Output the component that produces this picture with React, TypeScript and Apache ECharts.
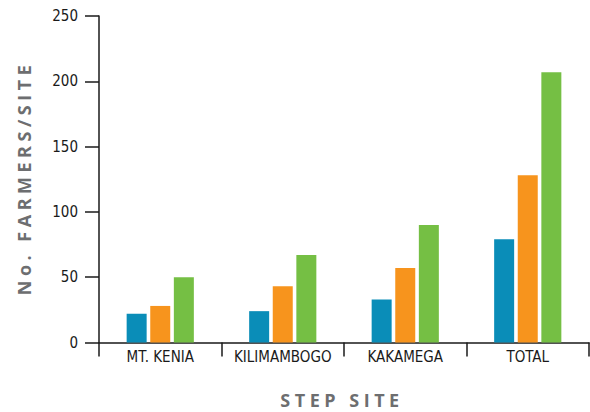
import React, { useEffect, useRef } from "react";
import * as echarts from "echarts";

const categories = ["MT. KENIA", "KILIMAMBOGO", "KAKAMEGA", "TOTAL"];
const seriesBlue = [22, 24, 33, 79];
const seriesOrange = [28, 43, 57, 128];
const seriesGreen = [50, 67, 90, 207];
const yTicks = { min: 0, max: 250, interval: 50 };
const xTitle = "STEP SITE";
const yTitle = "No. FARMERS/SITE";

const labelFont = "'DejaVu Sans Condensed', 'Liberation Sans Narrow', 'DejaVu Sans', sans-serif";
const titleFont = "'Open Sans', 'DejaVu Sans', sans-serif";
const axisColor = "#1a1a1a";

export default function App() {
  const ref = useRef<HTMLDivElement>(null);
  useEffect(() => {
    if (!ref.current) return;
    const chart = echarts.init(ref.current, undefined, { renderer: "svg" });
    const bar = (data: number[], color: string) => ({
      type: "bar",
      data,
      barWidth: 20,
      barGap: "18%",
      itemStyle: { color },
    });
    chart.setOption({
      animation: false,
      grid: { left: 99, top: 16, width: 490, height: 326.5 },
      xAxis: {
        type: "category",
        data: categories,
        axisLine: { lineStyle: { color: axisColor, width: 1.5 } },
        axisTick: { show: true, length: 14, interval: 0, lineStyle: { color: axisColor, width: 1.5 } },
        axisLabel: { interval: 0, margin: 7, fontSize: 15, color: "#1a1a1a", fontFamily: labelFont },
      },
      yAxis: {
        type: "value",
        min: yTicks.min,
        max: yTicks.max,
        interval: yTicks.interval,
        splitLine: { show: false },
        axisLine: { show: true, lineStyle: { color: axisColor, width: 1.5 } },
        axisTick: { show: true, length: 14, lineStyle: { color: axisColor, width: 1.5 } },
        axisLabel: { margin: 21, fontSize: 15, color: "#1a1a1a", fontFamily: labelFont },
      },
      series: [bar(seriesBlue, "#0A8DB8"), bar(seriesOrange, "#F7941D"), bar(seriesGreen, "#75BF44")],
      graphic: [
        {
          type: "text",
          x: 342,
          y: 400,
          style: {
            text: xTitle,
            fontSize: 18,
            fontWeight: "bold",
            fontFamily: titleFont,
            fill: "#6d6e70",
            textAlign: "center",
            textVerticalAlign: "middle",
          },
        },
        {
          type: "text",
          x: 24,
          y: 178,
          rotation: Math.PI / 2,
          style: {
            text: yTitle,
            fontSize: 18,
            fontWeight: "bold",
            fontFamily: titleFont,
            fill: "#6d6e70",
            textAlign: "center",
            textVerticalAlign: "middle",
          },
        },
      ],
    });
    ref.current.querySelectorAll("text").forEach((t) => {
      if (t.textContent === xTitle || t.textContent === yTitle) {
        t.setAttribute("letter-spacing", "4.5");
      }
    });
    return () => chart.dispose();
  }, []);
  return <div ref={ref} style={{ width: 590, height: 412, position: "absolute", left: 0, top: 0 }} />;
}
